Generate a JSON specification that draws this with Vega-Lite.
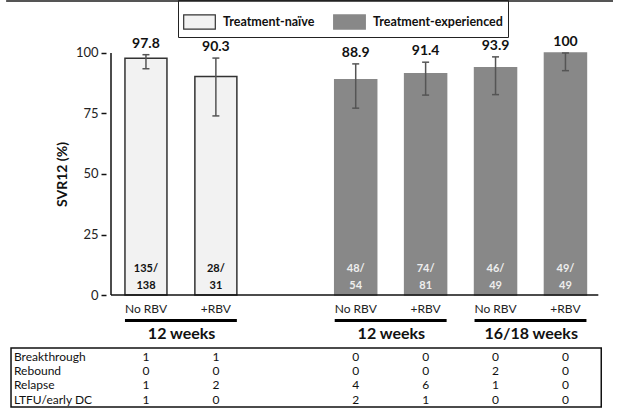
{
  "$schema": "https://vega.github.io/schema/vega-lite/v6.json",
  "width": 512,
  "height": 410,
  "autosize": "none",
  "padding": {"left": 106, "top": 0, "right": 0, "bottom": 0},
  "config": {
    "view": {"stroke": null},
    "font": "Lato",
    "text": {"font": "Lato"}
  },
  "datasets": {
    "arms": [
      {"slot": 0, "treat": "Treatment-naïve", "rbv": "No RBV", "svr": 97.8, "lo": 93.5, "hi": 99.3, "n": "135/\n138"},
      {"slot": 1, "treat": "Treatment-naïve", "rbv": "+RBV", "svr": 90.3, "lo": 74.0, "hi": 97.9, "n": "28/\n31"},
      {"slot": 3, "treat": "Treatment-experienced", "rbv": "No RBV", "svr": 88.9, "lo": 77.2, "hi": 95.5, "n": "48/\n54"},
      {"slot": 4, "treat": "Treatment-experienced", "rbv": "+RBV", "svr": 91.4, "lo": 82.6, "hi": 96.2, "n": "74/\n81"},
      {"slot": 5, "treat": "Treatment-experienced", "rbv": "No RBV", "svr": 93.9, "lo": 82.8, "hi": 98.4, "n": "46/\n49"},
      {"slot": 6, "treat": "Treatment-experienced", "rbv": "+RBV", "svr": 100, "lo": 92.7, "hi": 100, "n": "49/\n49"}
    ],
    "groups": [
      {"group": "12 weeks", "start": 0, "end": 1},
      {"group": "12 weeks", "start": 3, "end": 4},
      {"group": "16/18 weeks", "start": 5, "end": 6}
    ],
    "table": [
      {"outcome": "Breakthrough", "slot": 0, "count": 1},
      {"outcome": "Breakthrough", "slot": 1, "count": 1},
      {"outcome": "Breakthrough", "slot": 3, "count": 0},
      {"outcome": "Breakthrough", "slot": 4, "count": 0},
      {"outcome": "Breakthrough", "slot": 5, "count": 0},
      {"outcome": "Breakthrough", "slot": 6, "count": 0},
      {"outcome": "Rebound", "slot": 0, "count": 0},
      {"outcome": "Rebound", "slot": 1, "count": 0},
      {"outcome": "Rebound", "slot": 3, "count": 0},
      {"outcome": "Rebound", "slot": 4, "count": 0},
      {"outcome": "Rebound", "slot": 5, "count": 2},
      {"outcome": "Rebound", "slot": 6, "count": 0},
      {"outcome": "Relapse", "slot": 0, "count": 1},
      {"outcome": "Relapse", "slot": 1, "count": 2},
      {"outcome": "Relapse", "slot": 3, "count": 4},
      {"outcome": "Relapse", "slot": 4, "count": 6},
      {"outcome": "Relapse", "slot": 5, "count": 1},
      {"outcome": "Relapse", "slot": 6, "count": 0},
      {"outcome": "LTFU/early DC", "slot": 0, "count": 1},
      {"outcome": "LTFU/early DC", "slot": 1, "count": 0},
      {"outcome": "LTFU/early DC", "slot": 3, "count": 2},
      {"outcome": "LTFU/early DC", "slot": 4, "count": 1},
      {"outcome": "LTFU/early DC", "slot": 5, "count": 0},
      {"outcome": "LTFU/early DC", "slot": 6, "count": 0}
    ],
    "one": [{}]
  },
  "layer": [
    {
      "layer": [
        {
          "data": {"name": "one"},
          "mark": {"type": "rule", "stroke": "#555555", "strokeWidth": 2},
          "encoding": {
            "x": {"datum": -2, "type": "quantitative", "scale": {"domain": [-0.5, 6.68], "nice": false, "zero": false}, "axis": null},
            "x2": {"datum": 6.68},
            "y": {"datum": 121.5, "type": "quantitative", "scale": {"domain": [-47.52, 121.9], "nice": false, "zero": false},
              "axis": {"values": [0, 25, 50, 75, 100], "domain": false, "grid": false, "tickSize": 5, "tickColor": "#111", "tickWidth": 1.5,
                "labelFontSize": 13, "labelColor": "#222", "labelFont": "Lato", "labelPadding": 3,
                "title": "SVR12 (%)", "titleFont": "Lato", "titleFontSize": 14, "titleFontWeight": "bold", "titleColor": "#111",
                "titleX": -44, "titleY": 174, "titleAngle": -90, "titleAlign": "center", "titleBaseline": "middle"}}
          }
        },
        {
          "data": {"name": "arms"},
          "mark": {"type": "bar", "width": 42, "strokeWidth": 1.5},
          "encoding": {
            "x": {"field": "slot", "type": "quantitative", "scale": {"domain": [-0.5, 6.68], "nice": false, "zero": false}, "axis": null},
            "y": {"field": "svr", "type": "quantitative", "scale": {"domain": [-47.52, 121.9], "nice": false, "zero": false}},
            "y2": {"datum": 0},
            "fill": {"field": "treat", "type": "nominal",
              "scale": {"domain": ["Treatment-naïve", "Treatment-experienced"], "range": ["#f2f2f2", "#888888"]},
              "legend": {"title": null, "orient": "none", "legendX": 72, "legendY": 0, "direction": "horizontal",
                "strokeColor": "#222", "padding": 5, "symbolType": "M-1,-0.45H1V0.45H-1Z", "symbolSize": 1000,
                "symbolStrokeWidth": 1.2, "labelFont": "Lato", "labelFontSize": 12.5, "labelFontWeight": "bold", "labelColor": "#111",
                "labelOffset": 7, "columnPadding": 16, "symbolOpacity": 1}},
            "stroke": {"field": "treat", "type": "nominal",
              "scale": {"domain": ["Treatment-naïve", "Treatment-experienced"], "range": ["#333333", "#888888"]},
              "legend": {"title": null, "orient": "none", "legendX": 72, "legendY": 0, "direction": "horizontal",
                "strokeColor": "#222", "padding": 5, "symbolType": "M-1,-0.45H1V0.45H-1Z", "symbolSize": 1000,
                "symbolStrokeWidth": 1.2, "labelFont": "Lato", "labelFontSize": 12.5, "labelFontWeight": "bold", "labelColor": "#111",
                "labelOffset": 7, "columnPadding": 16, "symbolOpacity": 1}}
          }
        },
        {
          "data": {"name": "arms"},
          "mark": {"type": "rule", "stroke": "#555555", "strokeWidth": 1.5},
          "encoding": {
            "x": {"field": "slot", "type": "quantitative", "scale": {"domain": [-0.5, 6.68], "nice": false, "zero": false}, "axis": null},
            "y": {"field": "lo", "type": "quantitative", "scale": {"domain": [-47.52, 121.9], "nice": false, "zero": false}},
            "y2": {"field": "hi"}
          }
        },
        {
          "data": {"name": "arms"},
          "mark": {"type": "tick", "orient": "horizontal", "size": 7, "thickness": 1.5, "color": "#555555", "opacity": 1},
          "encoding": {
            "x": {"field": "slot", "type": "quantitative", "scale": {"domain": [-0.5, 6.68], "nice": false, "zero": false}, "axis": null},
            "y": {"field": "lo", "type": "quantitative", "scale": {"domain": [-47.52, 121.9], "nice": false, "zero": false}}
          }
        },
        {
          "data": {"name": "arms"},
          "mark": {"type": "tick", "orient": "horizontal", "size": 7, "thickness": 1.5, "color": "#555555", "opacity": 1},
          "encoding": {
            "x": {"field": "slot", "type": "quantitative", "scale": {"domain": [-0.5, 6.68], "nice": false, "zero": false}, "axis": null},
            "y": {"field": "hi", "type": "quantitative", "scale": {"domain": [-47.52, 121.9], "nice": false, "zero": false}}
          }
        },
        {
          "data": {"name": "arms"},
          "mark": {"type": "text", "fontSize": 14, "fontWeight": "bold", "color": "#111111", "baseline": "alphabetic", "dy": -7},
          "encoding": {
            "x": {"field": "slot", "type": "quantitative", "scale": {"domain": [-0.5, 6.68], "nice": false, "zero": false}, "axis": null},
            "y": {"field": "hi", "type": "quantitative", "scale": {"domain": [-47.52, 121.9], "nice": false, "zero": false}},
            "text": {"field": "svr", "type": "quantitative", "format": ".3~"}
          }
        },
        {
          "data": {"name": "arms"},
          "mark": {"type": "text", "fontSize": 11, "fontWeight": "bold", "baseline": "alphabetic", "dy": -23.5, "lineBreak": "\n", "lineHeight": 17},
          "encoding": {
            "x": {"field": "slot", "type": "quantitative", "scale": {"domain": [-0.5, 6.68], "nice": false, "zero": false}, "axis": null},
            "y": {"datum": 0, "type": "quantitative", "scale": {"domain": [-47.52, 121.9], "nice": false, "zero": false}},
            "text": {"field": "n"},
            "color": {"condition": {"test": "datum.treat === 'Treatment-naïve'", "value": "#111111"}, "value": "#eeeeee"}
          }
        },
        {
          "data": {"name": "arms"},
          "mark": {"type": "text", "fontSize": 12, "color": "#222222", "baseline": "middle"},
          "encoding": {
            "x": {"field": "slot", "type": "quantitative", "scale": {"domain": [-0.5, 6.68], "nice": false, "zero": false}, "axis": null},
            "y": {"datum": -5.8, "type": "quantitative", "scale": {"domain": [-47.52, 121.9], "nice": false, "zero": false}},
            "text": {"field": "rbv"}
          }
        },
        {
          "data": {"name": "one"},
          "mark": {"type": "rule", "stroke": "#111111", "strokeWidth": 1.5},
          "encoding": {
            "x": {"datum": -0.5, "type": "quantitative", "scale": {"domain": [-0.5, 6.68], "nice": false, "zero": false}, "axis": null},
            "y": {"datum": 0, "type": "quantitative", "scale": {"domain": [-47.52, 121.9], "nice": false, "zero": false}},
            "y2": {"datum": 100}
          }
        },
        {
          "data": {"name": "one"},
          "mark": {"type": "rule", "stroke": "#111111", "strokeWidth": 1.5},
          "encoding": {
            "x": {"datum": -0.5, "type": "quantitative", "scale": {"domain": [-0.5, 6.68], "nice": false, "zero": false}, "axis": null},
            "x2": {"datum": 6.47},
            "y": {"datum": 0, "type": "quantitative", "scale": {"domain": [-47.52, 121.9], "nice": false, "zero": false}}
          }
        },
        {
          "data": {"name": "groups"},
          "mark": {"type": "rule", "stroke": "#000000", "strokeWidth": 3, "xOffset": -21, "x2Offset": 21},
          "encoding": {
            "x": {"field": "start", "type": "quantitative", "scale": {"domain": [-0.5, 6.68], "nice": false, "zero": false}, "axis": null},
            "x2": {"field": "end"},
            "y": {"datum": -10.5, "type": "quantitative", "scale": {"domain": [-47.52, 121.9], "nice": false, "zero": false}}
          }
        },
        {
          "data": {"name": "groups"},
          "mark": {"type": "text", "fontSize": 16, "fontWeight": "bold", "color": "#111111", "baseline": "middle", "xOffset": 35.65},
          "encoding": {
            "x": {"field": "start", "type": "quantitative", "scale": {"domain": [-0.5, 6.68], "nice": false, "zero": false}, "axis": null},
            "y": {"datum": -16.3, "type": "quantitative", "scale": {"domain": [-47.52, 121.9], "nice": false, "zero": false}},
            "text": {"field": "group"}
          }
        },
        {
          "data": {"name": "one"},
          "mark": {"type": "rect", "fill": null, "fillOpacity": 0, "stroke": "#111111", "strokeWidth": 1.5},
          "encoding": {
            "x": {"datum": -1.93, "type": "quantitative", "scale": {"domain": [-0.5, 6.68], "nice": false, "zero": false}, "axis": null},
            "x2": {"datum": 6.512},
            "y": {"datum": -21.9, "type": "quantitative", "scale": {"domain": [-47.52, 121.9], "nice": false, "zero": false}},
            "y2": {"datum": -46.28}
          }
        }
      ]
    },
    {
      "data": {"name": "table"},
      "layer": [
        {
          "mark": {"type": "text", "fontSize": 12, "color": "#111111", "baseline": "middle"},
          "encoding": {
            "x": {"field": "slot", "type": "quantitative", "scale": {"domain": [-0.5, 6.68], "nice": false, "zero": false}, "axis": null},
            "y": {"field": "outcome", "type": "nominal", "sort": ["Breakthrough", "Rebound", "Relapse", "LTFU/early DC"],
              "scale": {"type": "point", "range": [356.5, 399.5], "padding": 0}, "axis": null},
            "text": {"field": "count", "type": "quantitative"}
          }
        },
        {
          "transform": [{"filter": "datum.slot === 0"}],
          "mark": {"type": "text", "fontSize": 12, "color": "#111111", "baseline": "middle", "align": "left"},
          "encoding": {
            "x": {"datum": -1.888, "type": "quantitative", "scale": {"domain": [-0.5, 6.68], "nice": false, "zero": false}, "axis": null},
            "y": {"field": "outcome", "type": "nominal", "sort": ["Breakthrough", "Rebound", "Relapse", "LTFU/early DC"],
              "scale": {"type": "point", "range": [356.5, 399.5], "padding": 0}, "axis": null},
            "text": {"field": "outcome"}
          }
        }
      ]
    }
  ],
  "resolve": {"scale": {"y": "independent"}, "axis": {"y": "independent"}}
}
